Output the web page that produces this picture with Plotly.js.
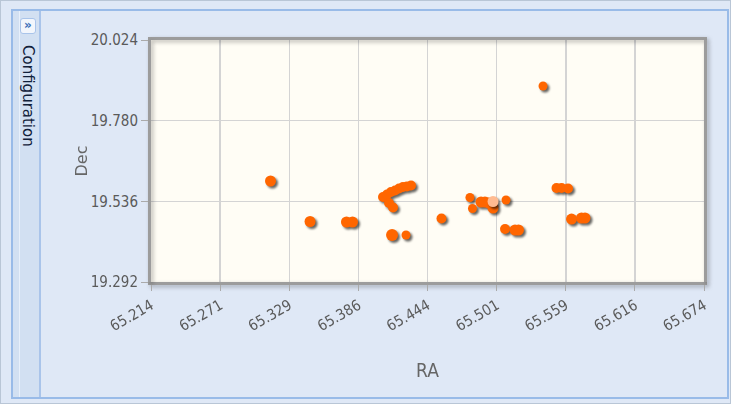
<!DOCTYPE html>
<html>
<head>
<meta charset="utf-8">
<script src="https://cdn.plot.ly/plotly-3.0.1.min.js"></script>
<style>
  html, body { margin:0; padding:0; width:731px; height:404px; overflow:hidden; background:#dfe8f6; font-family:'DejaVu Sans', sans-serif; }
  #outer { position:absolute; left:0; top:0; width:729px; height:402px; border:1px solid #b9c6d6; background:#dfe8f6; }
  #panel { position:absolute; left:11px; top:9px; width:714px; height:386px; border:2px solid #99bbe8; background:#dfe8f6; }
  #side { position:absolute; left:13px; top:11px; width:26px; height:386px; background:#d2e0f2; border-right:2px solid #a9c4ea; }
  #sideinner { position:absolute; left:19px; top:11px; width:1px; height:386px; background:#e8f0fb; }
  #btn { position:absolute; left:20px; top:18px; width:14px; height:14px; background:#f2f6fc; border:1px solid #a9c4ea; border-radius:3px; color:#3a6fb8; font-size:12px; line-height:13px; text-align:center; font-weight:bold; }
  #cfg { position:absolute; left:19px; top:45px; writing-mode:vertical-rl; font-family:'DejaVu Sans', sans-serif; font-size:15px; font-weight:500; color:#10203a; }
  #chart { position:absolute; left:0; top:0; width:731px; height:404px; }
  .scatterlayer .trace { filter: drop-shadow(2px 2px 1px rgba(0,0,0,0.6)); }
  .xlines-above, .ylines-above { filter: drop-shadow(2px 2px 2px rgba(0,0,0,0.3)); }
</style>
</head>
<body>
<div id="outer"></div>
<div id="panel"></div>
<div id="side"></div>
<div id="sideinner"></div>
<div id="btn">»</div>
<div id="cfg">Configuration</div>
<div id="chart"></div>
<script>
// Data (RA, Dec)
const raValues = [65.3134, 65.3463, 65.3766, 65.3816,
  65.4070, 65.4103, 65.4136, 65.4170, 65.4203, 65.4236, 65.4269, 65.4303, 65.4120, 65.4153,
  65.4145, 65.4261, 65.4556,
  65.4793, 65.4814, 65.4885, 65.4918, 65.4951, 65.4985, 65.5093,
  65.5085, 65.5168, 65.5197, 65.5401,
  65.5513, 65.5555, 65.5609, 65.5638, 65.5721, 65.5750];
const decValues = [19.5975, 19.4750, 19.4735, 19.4735,
  19.5490, 19.5566, 19.5640, 19.5687, 19.5748, 19.5793, 19.5808, 19.5838, 19.5309, 19.5173,
  19.4340, 19.4340, 19.4840,
  19.5476, 19.5143, 19.5340, 19.5340, 19.5310, 19.5158, 19.5400,
  19.4523, 19.4493, 19.4493, 19.8849,
  19.5763, 19.5763, 19.5748, 19.4825, 19.4856, 19.4856];
const markerSizes = [11, 11, 11, 11,
  10, 10, 10, 10, 10, 10, 10, 10, 10, 10,
  12, 9, 10,
  9, 9, 11, 11, 11, 11, 9,
  10, 11, 11, 9,
  10, 10, 10, 11, 11, 11];
// highlighted (selected) point
const highlightRA = [65.4985];
const highlightDec = [19.5355];

const xTickVals = [65.214, 65.2715, 65.329, 65.3865, 65.444, 65.5015, 65.559, 65.6165, 65.674];
const xTickText = ['65.214', '65.271', '65.329', '65.386', '65.444', '65.501', '65.559', '65.616', '65.674'];
const yTickVals = [19.292, 19.536, 19.780, 20.024];
const yTickText = ['19.292', '19.536', '19.780', '20.024'];

const tickFont = {family:"'DejaVu Sans Condensed', 'DejaVu Sans', sans-serif", size:15, color:'#5a5a5a'};

const traces = [
  {x: raValues, y: decValues, type:'scatter', mode:'markers',
   marker:{color:'#ff6600', opacity:1, size: markerSizes, line:{width:0}}, hoverinfo:'x+y'},
  {x: highlightRA, y: highlightDec, type:'scatter', mode:'markers',
   marker:{color:'#ffbb90', opacity:1, size:11, line:{width:0}}, hoverinfo:'x+y'}
];

const layout = {
  width:731, height:404,
  margin:{l:151, r:27, t:40, b:122},
  paper_bgcolor:'rgba(0,0,0,0)',
  plot_bgcolor:'#fffdf5',
  showlegend:false,
  xaxis:{
    range:[65.214, 65.674], tickvals:xTickVals, ticktext:xTickText, tickangle:-30,
    showgrid:true, gridcolor:'#d4d4d4', gridwidth:1.5, zeroline:false,
    showline:true, linecolor:'#9c9c9c', linewidth:3, mirror:true,
    ticks:'outside', ticklen:6, tickcolor:'#aaaaaa', tickwidth:1,
    tickfont:tickFont,
    title:{text:'RA', font:{family:"'DejaVu Sans Condensed', 'DejaVu Sans', sans-serif", size:19, color:'#666666'}, standoff:30}
  },
  yaxis:{
    range:[19.292, 20.024], tickvals:yTickVals, ticktext:yTickText,
    showgrid:true, gridcolor:'#d4d4d4', gridwidth:1.5, zeroline:false,
    showline:true, linecolor:'#9c9c9c', linewidth:3, mirror:true,
    ticks:'outside', ticklen:7, tickcolor:'#aaaaaa', tickwidth:1,
    tickfont:tickFont,
    title:{text:'Dec', font:{family:"'DejaVu Sans', sans-serif", size:16, color:'#666666'}, standoff:0}
  }
};

Plotly.newPlot('chart', traces, layout, {displayModeBar:false, staticPlot:true});
</script>
</body>
</html>
